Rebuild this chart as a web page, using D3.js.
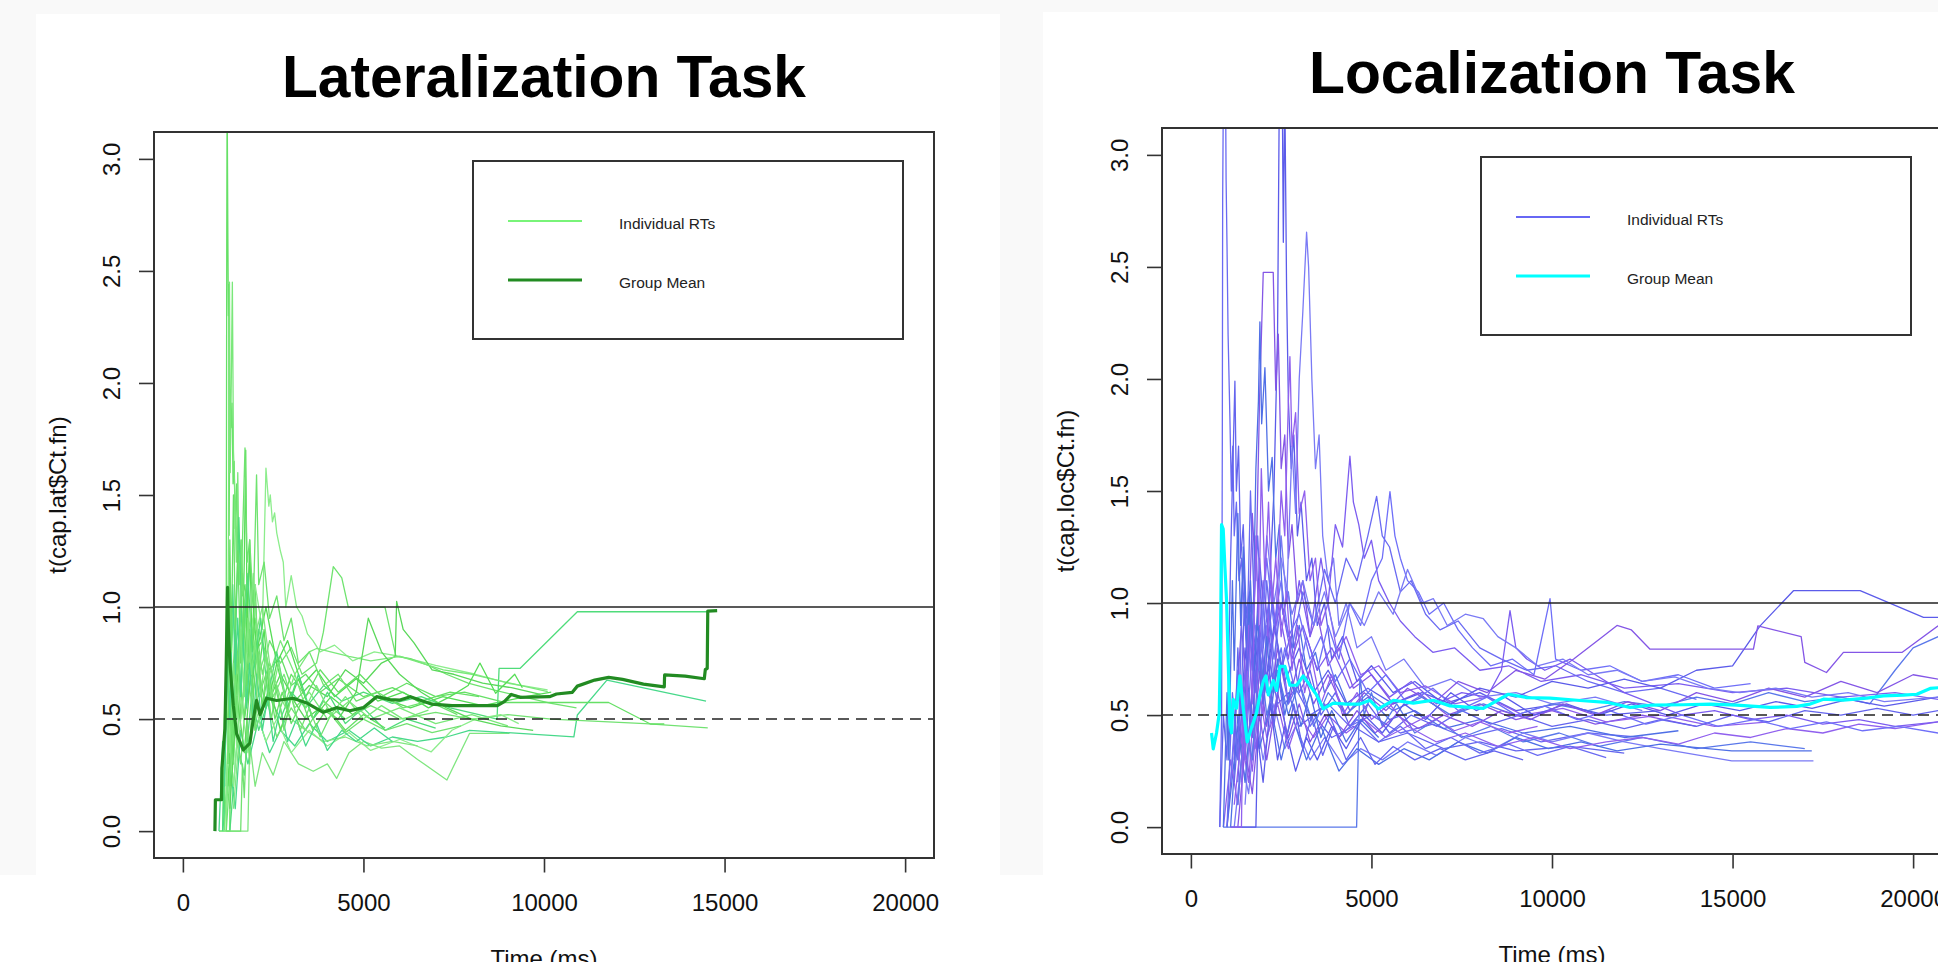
<!DOCTYPE html>
<html>
<head>
<meta charset="utf-8">
<script src="https://cdn.jsdelivr.net/npm/d3@7"></script>
<style>
  body { margin: 0; background: #fff; overflow: hidden; }
  svg { display: block; font-family: "Liberation Sans", Arial, sans-serif; }
  .tick text { font-size: 24px; fill: #111; font-family: "Liberation Sans", Arial, sans-serif; }
  .tick line { stroke: #333; stroke-width: 1.6; }
  .axis-title { font-size: 24px; fill: #111; }
  .plot-title { font-size: 60px; font-weight: bold; fill: #000; }
  .legend-text { font-size: 15.5px; fill: #222; }
</style>
</head>
<body>
<svg id="chart" width="1938" height="962"></svg>
<script>
// ---- data (time in ms, ratio) ----
const timeTicks = [0, 5000, 10000, 15000, 20000];
const ratioTicks = [0, 0.5, 1, 1.5, 2, 2.5, 3];
const solidRef = 1.0;
const dashedRef = 0.5;

// individual curves, lateralization task: flat [t, y, t, y, ...]
const latIndividual = [
  [1150,0, 1180,0.6, 1200,0.9, 1215,2.7, 1225,3.3, 1245,2.67, 1260,2.3, 1270,2.44, 1280,1.32, 1300,1.9, 1330,1.8, 1360,1.91, 1390,1.55, 1420,1.65, 1450,1.35, 1490,1.55, 1530,1.2, 1580,1.3, 1650,1.05, 1720,1.1, 1800,0.9, 1900,0.95, 2000,0.8, 2200,0.85, 2400,0.72, 2700,0.78, 3000,0.65, 3400,0.7, 3800,0.62, 4300,0.68, 5000,0.6, 5800,0.64, 6600,0.58, 7400,0.62, 8200,0.6],
  [1100,0, 1150,0.5, 1250,0.9, 1290,2.45, 1310,1.6, 1340,2.0, 1370,2.45, 1400,1.7, 1440,1.5, 1480,1.2, 1520,1.6, 1560,1.1, 1620,1.3, 1700,0.9, 1780,1.05, 1850,0.8, 1950,0.95, 2100,0.7, 2300,0.8, 2500,0.6, 2800,0.7, 3100,0.55, 3500,0.62, 4000,0.5, 4600,0.58, 5200,0.5, 6000,0.55, 7000,0.48, 8000,0.52, 9000,0.47],
  [1000,0, 1300,0, 1320,0.6, 1400,0.3, 1500,0.8, 1600,0.5, 1700,1.2, 1740,1.7, 1780,0.9, 1850,1.3, 1920,0.8, 2000,1.1, 2100,0.7, 2250,0.9, 2400,0.6, 2600,0.75, 2900,0.55, 3200,0.68, 3600,0.5, 4100,0.6, 4700,0.52, 5400,0.6, 6300,0.55, 7200,0.6, 8300,0.56, 9500,0.6, 10200,0.62],
  [1400,0.3, 1600,0.9, 1800,0.6, 2000,1.1, 2200,0.9, 2300,1.62, 2380,1.45, 2420,1.5, 2480,1.38, 2540,1.42, 2600,1.33, 2700,1.25, 2780,1.2, 2850,1.0, 3000,1.14, 3150,1.0, 3300,0.96, 3450,0.88, 3600,0.85, 3800,0.8, 4200,0.83, 4700,0.76, 5300,0.8, 6011,0.78, 7000,0.74, 8100,0.7, 9000,0.66, 10100,0.63],
  [1300,0, 1500,0.4, 1700,0.25, 1900,0.6, 2100,0.45, 2400,0.6, 2700,0.5, 3000,0.62, 3400,0.55, 3900,0.65, 4400,0.58, 5000,0.62, 5800,0.57, 6600,0.6, 7400,0.55, 8200,0.52, 8700,0.5, 8756,0.726, 9334,0.726, 10923,0.979, 14535,0.979],
  [1200,0.2, 1400,1.0, 1500,0.6, 1650,1.15, 1800,0.8, 2000,0.95, 2200,0.7, 2400,0.85, 2700,0.75, 3000,0.82, 3300,0.7, 3700,0.75, 3890,0.888, 4165,1.18, 4400,1.13, 4580,1.0, 5596,1.0, 5900,0.78, 6300,0.77, 6800,0.74, 7300,0.7, 7900,0.66, 8600,0.63, 9400,0.6, 10200,0.57, 10900,0.55],
  [1300,0.2, 1500,0.7, 1700,0.5, 2000,0.8, 2300,0.55, 2700,0.7, 3100,0.58, 3500,0.65, 4000,0.6, 4500,0.72, 5000,0.66, 5500,0.75, 5880,0.78, 5919,1.025, 6100,0.9, 6400,0.84, 6900,0.72, 7500,0.7, 8300,0.66, 9100,0.64, 9900,0.61],
  [1000,0, 1800,0, 1850,0.4, 2000,0.2, 2200,0.35, 2500,0.25, 2800,0.4, 3200,0.3, 3610,0.267, 4000,0.3, 4257,0.235, 4600,0.35, 5000,0.4, 5500,0.37, 6000,0.38, 6500,0.32, 7311,0.228, 7937,0.436, 9045,0.436],
  [1100,0, 1300,0.3, 1450,0.1, 1600,0.45, 1800,0.3, 2100,0.5, 2400,0.35, 2700,0.45, 3100,0.38, 3500,0.48, 4000,0.4, 4600,0.45, 5200,0.38, 5800,0.42, 6500,0.4, 7300,0.42, 7937,0.45, 10827,0.421, 10923,0.518, 11742,0.674, 14487,0.58],
  [1200,0.1, 1400,0.5, 1600,0.3, 1800,0.7, 2000,0.45, 2300,0.6, 2600,0.42, 3000,0.55, 3400,0.45, 3900,0.58, 4500,0.5, 5200,0.56, 6000,0.5, 7000,0.53, 8000,0.5, 9000,0.52, 10200,0.5, 11500,0.49, 12800,0.48, 14535,0.461],
  [1300,0.3, 1500,0.8, 1700,0.5, 1900,0.9, 2100,0.6, 2400,0.75, 2700,0.55, 3000,0.7, 3400,0.6, 3800,0.72, 4300,0.62, 4900,0.7, 5500,0.6, 6200,0.66, 7000,0.6, 7800,0.62, 8900,0.574, 11790,0.574, 12946,0.478, 13331,0.478],
  [1150,0, 1350,0.7, 1500,0.4, 1700,1.0, 1900,0.65, 2100,0.9, 2400,0.7, 2700,0.85, 3100,0.7, 3500,0.8, 3703,0.815, 4600,0.78, 5200,0.76, 6011,0.78, 7212,0.72, 8000,0.7, 10104,0.622],
  [1250,0.2, 1450,0.9, 1650,0.55, 1850,1.2, 2050,0.8, 2300,1.0, 2600,0.75, 2900,0.85, 3300,0.65, 3700,0.72, 4200,0.6, 4800,0.68, 5400,0.58, 6100,0.62, 6800,0.55, 7400,0.6, 7900,0.65, 8226,0.75, 8660,0.615, 9190,0.7, 9400,0.64],
  [1000,0, 1200,0, 1250,0.5, 1400,0.2, 1600,0.6, 1800,0.35, 2000,0.55, 2300,0.4, 2600,0.5, 3000,0.35, 3500,0.45, 4000,0.38, 4600,0.44, 5200,0.36, 6011,0.41, 6878,0.354, 7450,0.45, 8100,0.5, 8800,0.52, 9300,0.48],
  [1100,0, 1300,1.0, 1400,0.5, 1550,1.4, 1650,0.8, 1800,1.15, 1950,0.7, 2150,0.95, 2350,0.6, 2600,0.8, 2900,0.55, 3200,0.7, 3600,0.5, 4000,0.62, 4500,0.48, 5000,0.55, 5600,0.45, 6200,0.5, 7000,0.46],
  [1200,0, 1450,0.6, 1600,1.0, 1720,1.71, 1780,1.2, 1850,1.3, 1950,1.0, 2040,1.59, 2100,1.1, 2250,1.2, 2400,0.95, 2600,1.05, 2800,0.85, 3000,0.95, 3200,0.75, 3500,0.8, 3900,0.65, 4300,0.7, 4800,0.58, 5400,0.62, 6100,0.55, 6800,0.58, 7600,0.52],
  [1300,0.1, 1500,0.6, 1700,0.35, 1900,0.75, 2150,0.5, 2400,0.65, 2700,0.45, 3000,0.6, 3400,0.5, 3800,0.55, 4300,0.5, 4800,0.62, 5134,0.95, 5500,0.8, 6000,0.7, 6600,0.62, 7300,0.55, 8000,0.5, 8800,0.47, 9700,0.45],
  [1400,0.1, 1600,0.5, 1800,0.8, 1950,1.15, 2050,0.9, 2200,1.0, 2400,0.75, 2700,0.6, 3000,0.5, 3400,0.45, 3900,0.4, 4500,0.42, 5100,0.38, 5800,0.4, 6500,0.38],
  [1000,0, 1100,0.4, 1150,0.2, 1250,0.8, 1300,0.5, 1380,1.1, 1450,0.7, 1520,0.95, 1600,0.6, 1680,0.85, 1760,0.55, 1850,0.75, 1950,0.5, 2050,0.7, 2200,0.45, 2350,0.6, 2500,0.4, 2700,0.55, 2900,0.4, 3150,0.5, 3400,0.38, 3700,0.48, 4000,0.36, 4400,0.45, 4800,0.4, 5300,0.46, 5800,0.4],
  [1200,0, 1600,0, 1650,0.3, 1700,0.15, 1780,0.5, 1850,0.3, 1930,0.7, 2000,0.45, 2100,0.8, 2200,0.55, 2300,0.7, 2450,0.5, 2600,0.65, 2800,0.45, 3000,0.6, 3250,0.45, 3500,0.55, 3800,0.42, 4100,0.52, 4500,0.44, 5000,0.5, 5600,0.45, 6200,0.48, 6900,0.44, 7700,0.47],
  [1250,0.3, 1300,1.3, 1340,0.8, 1400,1.5, 1450,0.9, 1520,1.25, 1600,0.75, 1680,1.0, 1760,0.65, 1850,0.9, 1950,0.6, 2050,0.8, 2200,0.55, 2350,0.7, 2550,0.5, 2750,0.62, 3000,0.48, 3300,0.58, 3600,0.45, 4000,0.55, 4500,0.45, 5000,0.52, 5600,0.46],
  [1100,0.2, 1200,0.6, 1300,0.35, 1400,0.75, 1500,0.5, 1600,0.9, 1700,0.6, 1800,0.95, 1900,0.7, 2000,0.85, 2150,0.6, 2300,0.8, 2450,0.6, 2650,0.75, 2850,0.58, 3100,0.7, 3400,0.55, 3700,0.65, 4100,0.52, 4500,0.6, 5000,0.5, 5500,0.56, 6100,0.5, 6800,0.54]
];

const latMean = [887,0, 900,0.14, 1071,0.14, 1080,0.28, 1164,0.457, 1200,0.75, 1237,1.088, 1260,0.9, 1302,0.751, 1350,0.65, 1395,0.562, 1487,0.435, 1672,0.362, 1856,0.393, 1949,0.499, 2041,0.583, 2133,0.52, 2318,0.593, 2595,0.583, 3057,0.593, 3426,0.572, 3888,0.53, 4257,0.551, 4626,0.537, 4996,0.551, 5365,0.6, 5734,0.587, 6011,0.585, 6300,0.6, 6878,0.567, 7456,0.56, 8708,0.56, 8900,0.578, 9093,0.61, 9334,0.597, 10153,0.6, 10345,0.612, 10779,0.619, 10923,0.647, 11405,0.674, 11790,0.686, 12175,0.677, 12753,0.656, 13331,0.644, 13340,0.697, 13909,0.692, 14439,0.68, 14468,0.722, 14520,0.726, 14535,0.982, 14795,0.984];

// individual curves, localization task
const locIndividual = [
  [800,0, 850,0.5, 870,1.7, 880,2.8, 900,3.3, 960,3.3, 975,2.89, 1000,2.6, 1030,2.2, 1080,1.83, 1120,1.5, 1160,1.7, 1200,1.3, 1260,1.45, 1330,1.1, 1400,1.2, 1500,0.9, 1600,1.0, 1750,0.75, 1900,0.85, 2100,0.65, 2350,0.7, 2600,0.55, 2900,0.62, 3300,0.5, 3800,0.55, 4400,0.45, 5000,0.5, 5800,0.42, 6700,0.46, 7600,0.4, 8600,0.44, 9700,0.38, 11000,0.42, 12500,0.4],
  [1300,0.2, 1500,0.8, 1700,0.4, 1900,1.2, 2100,0.8, 2300,1.5, 2400,2.2, 2450,3.3, 2530,3.3, 2560,2.61, 2600,3.3, 2650,2.4, 2700,1.9, 2780,1.6, 2850,1.75, 2950,1.3, 3050,1.45, 3200,1.1, 3350,1.2, 3500,0.9, 3700,1.0, 3900,0.75, 4200,0.85, 4600,0.65, 5000,0.72, 5600,0.6, 6200,0.65, 7000,0.55, 8000,0.6, 9000,0.52, 10200,0.55, 11500,0.5, 13000,0.52],
  [1000,0, 1200,0.4, 1400,0.9, 1550,0.6, 1700,1.4, 1800,1.1, 1900,1.9, 2004,2.476, 2280,2.476, 2350,1.95, 2420,2.2, 2500,1.6, 2600,1.75, 2700,1.2, 2800,1.35, 2950,1.0, 3100,1.1, 3300,0.85, 3500,0.95, 3800,0.72, 4100,0.8, 4500,0.62, 5000,0.68, 5600,0.55, 6300,0.6, 7100,0.5, 8000,0.55, 9000,0.48, 10000,0.52, 11200,0.46, 12500,0.5, 14000,0.45],
  [1500,0.1, 1700,0.6, 1900,0.35, 2100,0.9, 2300,0.6, 2500,1.3, 2650,1.0, 2800,1.7, 2900,1.4, 3000,2.0, 3100,2.3, 3204,2.655, 3260,2.5, 3350,2.0, 3450,1.6, 3550,1.75, 3650,1.3, 3800,1.1, 3950,1.2, 4100,0.9, 4300,1.0, 4600,0.8, 5000,0.85, 5400,0.7, 5900,0.75, 6500,0.62, 7200,0.66, 8000,0.58, 9000,0.6, 10000,0.55, 11200,0.58, 12500,0.52],
  [1100,0, 1300,0.5, 1450,0.3, 1600,1.0, 1700,0.7, 1800,1.6, 1870,1.9, 1911,2.255, 1960,1.8, 2050,2.05, 2150,1.5, 2250,1.65, 2350,1.2, 2450,1.35, 2550,0.95, 2700,1.05, 2850,0.8, 3000,0.9, 3200,0.7, 3450,0.78, 3700,0.6, 4000,0.68, 4400,0.52, 4900,0.58, 5500,0.48, 6200,0.52, 7000,0.44, 8000,0.48, 9200,0.42, 10500,0.45, 12000,0.4, 13500,0.43],
  [1200,0.1, 1400,0.4, 1600,0.2, 1800,0.7, 2000,0.5, 2200,1.1, 2350,0.9, 2500,1.5, 2600,1.3, 2700,1.9, 2742,2.1, 2800,1.7, 2900,1.85, 3000,1.4, 3150,1.5, 3300,1.1, 3450,1.2, 3600,0.9, 3800,1.0, 4050,0.78, 4300,0.85, 4700,0.68, 5200,0.72, 5800,0.6, 6500,0.63, 7300,0.55, 8200,0.58, 9200,0.5, 10300,0.53, 11500,0.47, 13000,0.5, 14500,0.45, 16000,0.47],
  [800,0, 900,0.5, 1000,0.3, 1100,1.2, 1160,1.6, 1219,1.99, 1260,1.5, 1320,1.7, 1380,1.2, 1450,1.35, 1530,0.95, 1620,1.05, 1720,0.8, 1850,0.9, 2000,0.65, 2200,0.72, 2400,0.55, 2700,0.6, 3000,0.45, 3400,0.5, 3900,0.4, 4500,0.45, 5200,0.38, 6000,0.42, 7000,0.35, 8000,0.38, 9000,0.34, 10500,0.36, 12000,0.33],
  [895,0, 4589,0, 4681,0.675, 4800,0.5, 5000,0.6, 5300,0.45, 5700,0.55, 6200,0.42, 6800,0.48, 7500,0.4, 8300,0.45, 9200,0.38, 10200,0.42, 11300,0.36, 12500,0.4, 14000,0.35, 15500,0.38, 17000,0.35],
  [1300,0.3, 1500,0.7, 1700,0.45, 1900,0.9, 2100,0.6, 2400,1.0, 2700,0.75, 3000,1.1, 3300,0.85, 3600,1.2, 3800,1.0, 4000,1.35, 4200,1.25, 4404,1.655, 4500,1.45, 4650,1.35, 4800,1.2, 5000,1.28, 5200,1.1, 5500,1.0, 5800,0.92, 6200,0.85, 6700,0.78, 7300,0.8, 8000,0.7, 8800,0.72, 9700,0.65, 10800,0.68, 12000,0.62, 13500,0.64, 15000,0.6, 16500,0.62, 18000,0.58, 19500,0.6, 20700,0.57],
  [1400,0.2, 1600,0.6, 1800,0.35, 2000,0.7, 2300,0.5, 2600,0.8, 2900,0.6, 3200,0.85, 3500,0.7, 3800,0.9, 4100,0.75, 4400,1.0, 4700,0.9, 5000,1.1, 5300,1.2, 5513,1.497, 5650,1.3, 5800,1.2, 6000,1.1, 6300,1.05, 6600,0.95, 7000,1.0, 7400,0.88, 7800,0.8, 8300,0.72, 8900,0.75, 9500,0.68, 9945,1.02, 10100,0.75, 10800,0.7, 11600,0.72, 12500,0.65, 13500,0.68, 14500,0.62, 15500,0.64],
  [1500,0.3, 1700,0.8, 1900,0.5, 2100,1.1, 2300,0.75, 2500,1.0, 2800,0.8, 3100,1.05, 3400,0.9, 3700,1.15, 4000,1.0, 4300,1.2, 4600,1.1, 4900,1.3, 5143,1.476, 5300,1.3, 5500,1.25, 5800,1.05, 6100,1.1, 6500,0.95, 6900,0.88, 7400,0.92, 8000,0.8, 8600,0.75, 9300,0.7, 10100,0.72, 11000,0.65, 12000,0.6, 13000,0.62, 14000,0.57],
  [1600,0.4, 1800,0.8, 2000,0.55, 2300,0.9, 2600,0.65, 3000,0.8, 3400,0.6, 3800,0.7, 4300,0.55, 4900,0.62, 5600,0.55, 6400,0.6, 7200,0.55, 8000,0.62, 9000,0.58, 10000,0.65, 11000,0.62, 12000,0.66, 13000,0.62, 14000,0.7, 15000,0.72, 15763,0.898, 16686,1.055, 18533,1.055, 20287,0.936, 20693,0.936],
  [1700,0.3, 1900,0.7, 2100,0.45, 2400,0.8, 2700,0.55, 3000,0.75, 3400,0.55, 3800,0.68, 4300,0.5, 4800,0.6, 5400,0.52, 6000,0.62, 6700,0.55, 7400,0.65, 8200,0.6, 9000,0.7, 9800,0.66, 10600,0.75, 11400,0.85, 11800,0.9, 12200,0.88, 12715,0.794, 15578,0.794, 15700,0.898, 16900,0.85, 17000,0.735, 17600,0.69, 18070,0.78, 19700,0.78, 20693,0.898],
  [1200,0, 1400,0.3, 1600,0.15, 1800,0.5, 2000,0.3, 2300,0.55, 2600,0.35, 2900,0.45, 3300,0.3, 3700,0.4, 4200,0.28, 4700,0.35, 5300,0.3, 6000,0.38, 6800,0.32, 7600,0.4, 8400,0.35, 9200,0.42, 10000,0.38, 11000,0.42, 12000,0.38, 13000,0.35, 14978,0.296, 17240,0.296],
  [1000,0, 1300,0.45, 1500,0.2, 1700,0.6, 1900,0.35, 2200,0.55, 2500,0.3, 2800,0.5, 3200,0.3, 3600,0.45, 4100,0.25, 4600,0.35, 5200,0.28, 5900,0.35, 6600,0.3, 7400,0.38, 8200,0.33, 9000,0.4, 9900,0.35, 10800,0.38, 11800,0.34, 13000,0.37, 14978,0.34, 17194,0.34],
  [900,0, 1100,0.3, 1300,0.1, 1500,0.5, 1700,0.25, 1900,0.6, 2100,0.4, 2400,0.55, 2700,0.35, 3000,0.5, 3400,0.4, 3800,0.5, 4300,0.42, 4800,0.48, 5400,0.4, 6000,0.45, 6800,0.38, 7600,0.42, 8500,0.36, 9500,0.4, 10500,0.35, 11500,0.38, 12500,0.4, 13500,0.37, 14500,0.42, 15500,0.4, 16500,0.44, 17500,0.42, 18500,0.46, 19500,0.44, 20693,0.47],
  [1200,0.2, 1400,0.6, 1600,0.4, 1800,0.9, 2000,0.6, 2250,1.0, 2500,0.7, 2750,0.85, 3000,0.6, 3300,0.7, 3600,0.5, 4000,0.6, 4400,0.45, 4900,0.55, 5500,0.42, 6100,0.5, 6800,0.45, 7500,0.52, 8300,0.46, 9100,0.5, 10000,0.45, 11000,0.48, 12000,0.44, 13000,0.48, 14000,0.45, 15000,0.5, 16000,0.47, 17000,0.52, 18000,0.5, 19000,0.53, 20000,0.5, 20693,0.52],
  [1300,0.1, 1500,0.5, 1700,0.3, 1900,0.8, 2100,0.5, 2400,0.7, 2700,0.5, 3000,0.65, 3400,0.45, 3800,0.6, 4300,0.5, 4900,0.6, 5600,0.52, 6400,0.58, 7200,0.5, 8100,0.55, 9000,0.5, 10000,0.55, 11000,0.52, 12000,0.56, 13000,0.54, 14000,0.58, 15000,0.55, 16000,0.6, 17000,0.56, 18000,0.58, 18800,0.55, 19500,0.7, 20000,0.8, 20693,0.85],
  [1400,0.4, 1600,0.9, 1800,0.6, 2000,1.1, 2200,0.8, 2500,1.0, 2800,0.75, 3100,0.9, 3500,0.7, 3900,0.8, 4400,0.62, 4900,0.7, 5500,0.58, 6100,0.65, 6800,0.55, 7500,0.6, 8200,0.58, 8600,0.7, 8837,0.966, 9000,0.8, 9300,0.75, 9800,0.7, 10500,0.75, 11200,0.68, 12000,0.6, 12800,0.55, 13600,0.5, 14500,0.52, 15500,0.48, 16500,0.5, 17500,0.46, 18500,0.48, 19500,0.45, 20693,0.47],
  [1100,0.2, 1300,0.7, 1500,0.4, 1700,1.0, 1900,0.7, 2100,1.2, 2300,0.9, 2500,1.1, 2700,0.85, 3000,0.95, 3300,0.75, 3600,0.85, 4000,0.65, 4400,0.75, 4900,0.6, 5400,0.68, 6000,0.55, 6700,0.62, 7400,0.52, 8200,0.58, 9000,0.5, 9800,0.54, 10700,0.48, 11600,0.52, 12600,0.46, 13600,0.5, 14600,0.45, 15600,0.48, 16600,0.44, 17600,0.47, 18600,0.43, 19600,0.45, 20693,0.42],
  [1000,0, 1150,0.6, 1300,0.3, 1450,1.2, 1550,0.8, 1650,1.5, 1750,1.0, 1850,1.3, 2000,0.8, 2150,1.0, 2300,0.65, 2500,0.8, 2700,0.55, 3000,0.65, 3300,0.45, 3700,0.55, 4100,0.4, 4600,0.48, 5200,0.38, 5800,0.45, 6500,0.35, 7200,0.4, 8000,0.33, 8800,0.37, 9600,0.32, 10500,0.36, 11500,0.31],
  [1100,0, 1800,0, 1850,0.4, 2000,0.2, 2200,0.55, 2400,0.3, 2600,0.45, 2900,0.25, 3200,0.4, 3500,0.3, 3900,0.45, 4300,0.35, 4800,0.5, 5300,0.42, 5900,0.55, 6500,0.48, 7200,0.6, 7900,0.52, 8700,0.58, 9500,0.5, 10400,0.55, 11300,0.5, 12200,0.55, 13200,0.5, 14200,0.55, 15200,0.52, 16200,0.56, 17200,0.53, 18200,0.57, 19200,0.54, 20693,0.58],
  [1300,0, 1500,0.35, 1700,0.15, 1900,0.5, 2100,0.3, 2400,0.6, 2700,0.4, 3000,0.55, 3300,0.38, 3700,0.5, 4100,0.4, 4600,0.52, 5100,0.42, 5700,0.5, 6300,0.44, 7000,0.5, 7800,0.45, 8600,0.52, 9400,0.48, 10300,0.55, 11200,0.5, 12100,0.56, 13000,0.52, 14000,0.6, 15000,0.56, 16000,0.62, 17000,0.58, 18000,0.65, 19000,0.6, 20000,0.68, 20693,0.66],
  [1500,0.5, 1700,1.0, 1900,0.7, 2100,1.3, 2300,1.0, 2500,1.2, 2800,0.95, 3100,1.1, 3400,0.9, 3700,1.05, 4000,0.85, 4400,1.0, 4800,0.9, 5200,1.05, 5600,0.95, 6000,1.15, 6400,1.0, 6713,1.02, 7100,0.9, 7600,0.95, 8098,0.93, 8500,0.85, 9000,0.8, 9600,0.72, 10300,0.75, 11000,0.68, 11800,0.7, 12500,0.65, 13400,0.67, 14300,0.62, 15200,0.6, 16200,0.62, 17200,0.58, 18200,0.6, 19200,0.56, 20693,0.58],
  [900,0, 1000,0.6, 1050,0.3, 1150,1.1, 1200,0.7, 1300,1.4, 1380,0.9, 1450,1.25, 1550,0.8, 1650,1.1, 1750,0.7, 1850,0.95, 1950,0.6, 2100,0.85, 2250,0.55, 2400,0.75, 2600,0.5, 2800,0.65, 3050,0.45, 3300,0.6, 3600,0.4, 3900,0.52, 4300,0.38, 4700,0.48, 5200,0.4],
  [1100,0, 1400,0, 1450,0.6, 1500,0.3, 1600,0.9, 1700,0.55, 1800,1.3, 1880,0.9, 1950,1.6, 2050,1.1, 2150,1.45, 2250,1.0, 2350,1.2, 2500,0.85, 2650,1.05, 2800,0.7, 2950,0.9, 3150,0.6, 3350,0.75, 3600,0.55, 3900,0.68, 4200,0.5, 4600,0.6, 5000,0.48, 5500,0.55, 6000,0.45, 6600,0.5, 7300,0.43, 8000,0.47, 8800,0.42, 9600,0.45],
  [1200,0.3, 1300,0.8, 1380,0.5, 1480,1.0, 1560,0.7, 1660,0.95, 1760,0.6, 1880,0.85, 2000,0.55, 2150,0.75, 2300,0.45, 2450,0.65, 2650,0.4, 2850,0.55, 3100,0.35, 3350,0.5, 3650,0.32, 3950,0.45, 4300,0.3, 4700,0.4, 5100,0.28, 5600,0.36, 6200,0.3, 6900,0.35, 7600,0.3, 8400,0.34, 9200,0.3]
];

const locMean = [572,0.42, 619,0.349, 710,0.42, 785,0.507, 822,0.844, 849,1.35, 895,1.33, 942,1.16, 988,1.01, 1034,0.74, 1080,0.464, 1126,0.42, 1172,0.57, 1265,0.53, 1357,0.675, 1450,0.53, 1560,0.38, 1680,0.444, 1819,0.51, 1911,0.59, 2004,0.65, 2077,0.675, 2142,0.59, 2280,0.654, 2373,0.61, 2465,0.717, 2604,0.717, 2742,0.633, 2927,0.633, 3112,0.675, 3204,0.654, 3481,0.59, 3666,0.528, 3943,0.553, 4312,0.549, 4681,0.549, 4958,0.566, 5189,0.528, 5605,0.566, 6159,0.553, 6713,0.566, 7175,0.541, 8098,0.53, 8791,0.593, 9300,0.578, 9945,0.576, 10869,0.564, 11515,0.557, 12161,0.534, 12715,0.544, 13638,0.546, 14378,0.549, 15117,0.544, 16040,0.534, 16778,0.539, 17148,0.549, 17517,0.571, 18071,0.567, 18718,0.576, 19179,0.586, 19733,0.589, 20103,0.593, 20472,0.619, 20693,0.622];

const latColours = ["#66e066", "#7ae87a", "#55dd55", "#8ced8c", "#4fdc7a", "#6fe36f", "#5ad85a", "#80e680", "#47d98a", "#72e272"];
const locColours = ["#6a6af2", "#5b5bea", "#8456e6", "#7a7af5", "#4f6fe6", "#9060ee", "#6464ee", "#5a78ea", "#7c5cf0", "#6f6ff8"];

// turn a flat [t, y, t, y ...] list into point objects
const toPoints = (flat) => d3.range(0, flat.length, 2).map((i) => ({ t: flat[i], y: flat[i + 1] }));

class RunPlot {
  /**
   * One panel: box, axes, reference lines, curves and legend
   */
  constructor(_config, _series, _mean) {
    this.config = {
      id: _config.id,
      left: _config.left,
      top: _config.top,
      width: _config.width || 780,
      height: _config.height || 726,
      title: _config.title,
      titleWidth: _config.titleWidth,
      yTitle: _config.yTitle,
      colours: _config.colours,
      meanColour: _config.meanColour,
      legendColour: _config.legendColour,
    };
    this.series = _series.map(toPoints);
    this.mean = toPoints(_mean);
    this.initVis();
  }

  initVis() {
    let vis = this;
    const svg = d3.select("#chart");

    // R pads the range by 4% on each side
    vis.xScale = d3.scaleLinear().domain([-800, 20800]).range([0, vis.config.width]);
    vis.yScale = d3.scaleLinear().domain([-0.12, 3.12]).range([vis.config.height, 0]);

    vis.chart = svg
      .append("g")
      .attr("transform", `translate(${vis.config.left},${vis.config.top})`);

    vis.chart
      .append("clipPath")
      .attr("id", `clip-${vis.config.id}`)
      .append("rect")
      .attr("width", vis.config.width)
      .attr("height", vis.config.height);

    vis.plotArea = vis.chart.append("g").attr("clip-path", `url(#clip-${vis.config.id})`);

    vis.renderVis();
  }

  renderVis() {
    let vis = this;
    const line = d3
      .line()
      .x((d) => vis.xScale(d.t))
      .y((d) => vis.yScale(d.y));

    // individual curves
    vis.plotArea
      .selectAll(".indiv")
      .data(vis.series)
      .join("path")
      .attr("class", "indiv")
      .attr("d", line)
      .attr("fill", "none")
      .attr("stroke", (d, i) => vis.config.colours[i % vis.config.colours.length])
      .attr("stroke-width", 1.3)
      .attr("stroke-linejoin", "round");

    // reference lines
    vis.plotArea
      .append("line")
      .attr("x1", 0)
      .attr("x2", vis.config.width)
      .attr("y1", vis.yScale(solidRef))
      .attr("y2", vis.yScale(solidRef))
      .attr("stroke", "#222")
      .attr("stroke-width", 1.5);

    vis.plotArea
      .append("line")
      .attr("x1", 0)
      .attr("x2", vis.config.width)
      .attr("y1", vis.yScale(dashedRef))
      .attr("y2", vis.yScale(dashedRef))
      .attr("stroke", "#222")
      .attr("stroke-width", 1.5)
      .attr("stroke-dasharray", "11,7");

    // group mean
    vis.plotArea
      .append("path")
      .datum(vis.mean)
      .attr("d", line)
      .attr("fill", "none")
      .attr("stroke", vis.config.meanColour)
      .attr("stroke-width", 3.2)
      .attr("stroke-linejoin", "round");

    // axes
    const xAxis = d3
      .axisBottom(vis.xScale)
      .tickValues(timeTicks)
      .tickSize(14.5)
      .tickPadding(21)
      .tickFormat(d3.format("d"));

    vis.chart
      .append("g")
      .attr("transform", `translate(0,${vis.config.height})`)
      .call(xAxis)
      .call((g) => g.select(".domain").remove());

    const yAxis = d3.axisLeft(vis.yScale).tickValues(ratioTicks).tickSize(15).tickFormat(d3.format(".1f"));

    vis.chart
      .append("g")
      .call(yAxis)
      .call((g) => g.select(".domain").remove())
      .call((g) =>
        g
          .selectAll(".tick text")
          .attr("x", null)
          .attr("dy", null)
          .attr("text-anchor", "middle")
          .attr("transform", "translate(-34,0) rotate(-90)")
      );

    // plot box
    vis.chart
      .append("rect")
      .attr("width", vis.config.width)
      .attr("height", vis.config.height)
      .attr("fill", "none")
      .attr("stroke", "#333")
      .attr("stroke-width", 2);

    // titles
    vis.chart
      .append("text")
      .attr("class", "plot-title")
      .attr("x", vis.config.width / 2)
      .attr("y", -35)
      .attr("text-anchor", "middle")
      .attr("textLength", vis.config.titleWidth)
      .attr("lengthAdjust", "spacingAndGlyphs")
      .text(vis.config.title);

    vis.chart
      .append("text")
      .attr("class", "axis-title")
      .attr("transform", `translate(-88.5,${vis.config.height / 2}) rotate(-90)`)
      .attr("text-anchor", "middle")
      .text(vis.config.yTitle);

    // x title sits at the bottom edge, cut off like the source
    vis.chart
      .append("text")
      .attr("class", "axis-title")
      .attr("x", vis.xScale(10000))
      .attr("y", vis.config.height + 109)
      .attr("text-anchor", "middle")
      .text("Time (ms)");

    // legend
    const legend = vis.chart.append("g").attr("transform", "translate(319,29)");
    legend
      .append("rect")
      .attr("width", 430)
      .attr("height", 178)
      .attr("fill", "#fff")
      .attr("stroke", "#333")
      .attr("stroke-width", 2);

    const entries = [
      { label: "Individual RTs", colour: vis.config.legendColour, w: 1.6, y: 60 },
      { label: "Group Mean", colour: vis.config.meanColour, w: 3.2, y: 119 },
    ];
    entries.forEach((e) => {
      legend
        .append("line")
        .attr("x1", 35)
        .attr("x2", 109)
        .attr("y1", e.y)
        .attr("y2", e.y)
        .attr("stroke", e.colour)
        .attr("stroke-width", e.w);
      legend
        .append("text")
        .attr("class", "legend-text")
        .attr("x", 146)
        .attr("y", e.y + 3)
        .attr("dy", "0.32em")
        .text(e.label);
    });
  }
}

// faint screenshot border behind the panels
const bg = d3.select("#chart");
bg.append("rect").attr("x", 0).attr("y", 0).attr("width", 1000).attr("height", 14).attr("fill", "#f9f9f9");
bg.append("rect").attr("x", 0).attr("y", 0).attr("width", 36).attr("height", 875).attr("fill", "#f9f9f9");
bg.append("rect").attr("x", 1000).attr("y", 0).attr("width", 938).attr("height", 12).attr("fill", "#f9f9f9");
bg.append("rect").attr("x", 1000).attr("y", 0).attr("width", 43).attr("height", 875).attr("fill", "#f9f9f9");

new RunPlot(
  {
    id: "lat",
    left: 154,
    top: 132,
    title: "Lateralization Task",
    titleWidth: 524,
    yTitle: "t(cap.lat$Ct.fn)",
    colours: latColours,
    meanColour: "#228b22",
    legendColour: "#4cf04c",
  },
  latIndividual,
  latMean
);

new RunPlot(
  {
    id: "loc",
    left: 1162,
    top: 128,
    title: "Localization Task",
    titleWidth: 486,
    yTitle: "t(cap.loc$Ct.fn)",
    colours: locColours,
    meanColour: "#00ffff",
    legendColour: "#3434f0",
  },
  locIndividual,
  locMean
);
</script>
</body>
</html>
